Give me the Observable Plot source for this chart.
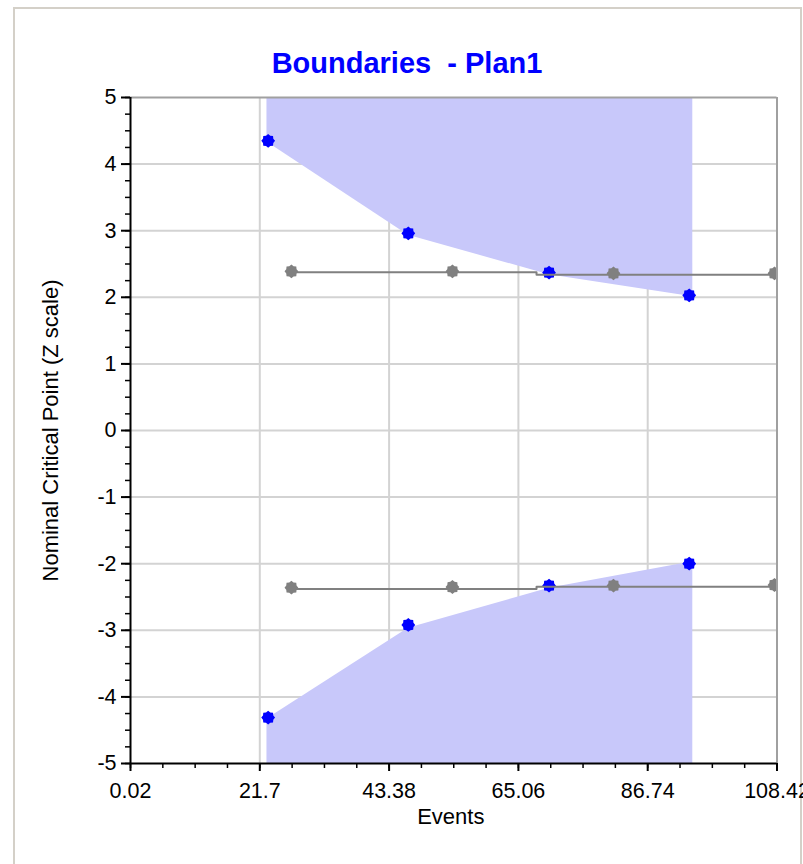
<!DOCTYPE html>
<html>
<head>
<meta charset="utf-8">
<script src="https://cdn.jsdelivr.net/npm/d3@7"></script>
<script src="https://cdn.jsdelivr.net/npm/@observablehq/plot@0.6"></script>
<style>
  html, body { margin: 0; padding: 0; background: #ffffff; }
  #wrap { position: relative; width: 803px; height: 864px; overflow: hidden; background: #ffffff; }
  #frame { position: absolute; left: 13px; top: 7px; width: 785px; height: 900px;
           border-left: 2px solid #d4d0c8; border-top: 2px solid #d4d0c8; border-right: 2px solid #d4d0c8; }
  #title { position: absolute; left: 14px; width: 786px; top: 49px; text-align: center;
           font-family: "Liberation Sans", Arial, sans-serif; font-weight: bold; font-size: 29px;
           line-height: 29px; color: #0000ff; white-space: pre; }
  #chart { position: absolute; left: 0; top: 0; }
</style>
</head>
<body>
<div id="wrap">
  <div id="frame"></div>
  <div id="chart"></div>
  <div id="title">Boundaries  - Plan1</div>
</div>
<script>
// ---- data ----
const boundaryEvents = [23.1, 46.6, 70.2, 93.7];
const upperBoundary = [4.35, 2.96, 2.37, 2.03];
const lowerBoundary = [-4.31, -2.92, -2.33, -2.00];

const regionEvents = [22.9, 46.6, 70.2, 94.3];
const upperRegionEdge = [4.33, 2.93, 2.34, 2.01];
const lowerRegionEdge = [-4.33, -2.97, -2.37, -1.97];

const compareEvents = [27, 54, 81, 108];
const compareUpper = [2.39, 2.39, 2.36, 2.36];
const compareLower = [-2.36, -2.35, -2.33, -2.32];

const compareLineEvents = [27, 68.1, 68.1, 108.42];
const compareLineUpper = [2.375, 2.375, 2.34, 2.34];
const compareLineLower = [-2.38, -2.38, -2.345, -2.345];

const xTicks = [0.02, 21.7, 43.38, 65.06, 86.74, 108.42];
const xTickLabels = ["0.02", "21.7", "43.38", "65.06", "86.74", "108.42"];
const yTicks = [-5, -4, -3, -2, -1, 0, 1, 2, 3, 4, 5];
const yTickLabels = ["-5", "-4", "-3", "-2", "-1", "0", "1", "2", "3", "4", "5"];

const titleText = "Boundaries  - Plan1";
const xLabel = "Events";
const yLabel = "Nominal Critical Point (Z scale)";

// ---- helpers ----
const pts = (xs, ys) => xs.map((x, i) => ({x, y: ys[i]}));
const xMinor = d3.range(0, 21).map(i => 0.02 + i * 5.42);
const yMinor = d3.range(-20, 21).map(i => i * 0.25);

// gear-like 8-point marker
const gear = {
  draw(context, size) {
    const r = Math.sqrt(size / Math.PI);
    for (let i = 0; i < 16; i++) {
      const a = i * Math.PI / 8 - Math.PI / 2;
      const rr = i % 2 === 0 ? r * 1.15 : r * 0.93;
      const px = rr * Math.cos(a), py = rr * Math.sin(a);
      if (i === 0) context.moveTo(px, py); else context.lineTo(px, py);
    }
    context.closePath();
  }
};

const fillColor = "#c8c8fa";
const grid = "#d3d3d3";
const gray = "#808080";

const chart = Plot.plot({
  width: 803,
  height: 864,
  marginLeft: 130,
  marginRight: 26.5,
  marginTop: 97,
  marginBottom: 101,
  x: {domain: [0.02, 108.42]},
  y: {domain: [-5, 5]},
  style: {fontFamily: "'Liberation Sans', Arial, sans-serif", fontSize: "21.5px", background: "transparent", color: "#000"},
  marks: [
    Plot.gridX(xTicks.slice(1, -1), {stroke: grid, strokeOpacity: 1, strokeWidth: 2}),
    Plot.gridY(yTicks.slice(1, -1), {stroke: grid, strokeOpacity: 1, strokeWidth: 2}),
    Plot.areaY(pts(regionEvents, upperRegionEdge), {x: "x", y1: "y", y2: 5, fill: fillColor}),
    Plot.areaY(pts(regionEvents, lowerRegionEdge), {x: "x", y1: -5, y2: "y", fill: fillColor}),
    Plot.dot(pts(boundaryEvents, upperBoundary), {x: "x", y: "y", r: 6, symbol: gear, fill: "#0000ff", stroke: "none"}),
    Plot.dot(pts(boundaryEvents, lowerBoundary), {x: "x", y: "y", r: 6, symbol: gear, fill: "#0000ff", stroke: "none"}),
    Plot.line(pts(compareLineEvents, compareLineUpper), {x: "x", y: "y", stroke: gray, strokeWidth: 2, clip: true}),
    Plot.line(pts(compareLineEvents, compareLineLower), {x: "x", y: "y", stroke: gray, strokeWidth: 2, clip: true}),
    Plot.dot(pts(compareEvents, compareUpper), {x: "x", y: "y", r: 6, symbol: gear, fill: gray, stroke: "none", clip: true}),
    Plot.dot(pts(compareEvents, compareLower), {x: "x", y: "y", r: 6, symbol: gear, fill: gray, stroke: "none", clip: true}),
    Plot.ruleY([5], {stroke: "#a0a0a0", strokeWidth: 2}),
    Plot.ruleX([108.42], {stroke: "#a0a0a0", strokeWidth: 2}),
    Plot.ruleX([0.02], {stroke: "#000", strokeWidth: 2}),
    Plot.ruleY([-5], {stroke: "#000", strokeWidth: 2}),
    Plot.axisX(xMinor, {anchor: "bottom", tickSize: 5, tickFormat: () => "", label: null, strokeWidth: 1.5}),
    Plot.axisX(xTicks, {anchor: "bottom", tickSize: 8, tickPadding: 11, tickFormat: d => xTickLabels[xTicks.indexOf(d)], label: null, strokeWidth: 2, fill: "#000"}),
    Plot.axisY(yMinor, {anchor: "left", tickSize: 5, tickFormat: () => "", label: null, strokeWidth: 1.5}),
    Plot.axisY(yTicks, {anchor: "left", tickSize: 9, tickPadding: 5, tickFormat: d => yTickLabels[yTicks.indexOf(d)], label: null, strokeWidth: 2, fill: "#000"}),
    Plot.text([xLabel], {frameAnchor: "bottom", dy: 60, dx: -3, text: d => d, fill: "#000", fontSize: 22}),
    Plot.text([yLabel], {frameAnchor: "left", dx: -80, rotate: -90, textAnchor: "middle", text: d => d, fill: "#000", fontSize: 22})
  ]
});
document.getElementById("chart").appendChild(chart);
document.getElementById("title").textContent = titleText;
</script>
</body>
</html>
